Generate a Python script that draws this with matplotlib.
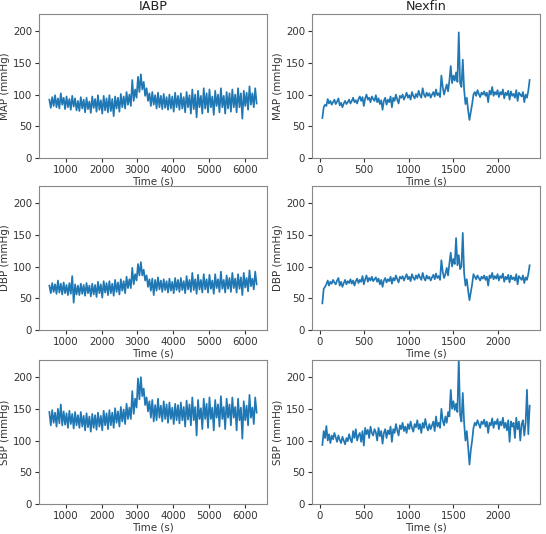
import numpy as np
import matplotlib
matplotlib.use("Agg")
import matplotlib.pyplot as plt

# ---------------- data ----------------
iabp_t_start, iabp_t_end = 540, 6330
nex_t_start, nex_t_end = 30, 2355

iabp_map = [92, 79, 96, 82, 99, 80, 94, 78, 102, 84, 95, 77, 97, 80, 93, 76, 98, 81, 94, 75,
            90, 74, 96, 78, 92, 72, 95, 77, 89, 71, 97, 79, 93, 73, 99, 76, 91, 70, 98, 75,
            94, 72, 99, 74, 93, 66, 97, 78, 95, 73, 101, 80, 97, 78, 104, 84,
            100, 82, 123, 90, 108, 95, 128, 104, 132, 108, 120, 98, 110, 90,
            102, 82, 104, 84, 99, 78, 103, 80, 98, 77, 101, 79, 96, 76, 100, 78, 97, 73, 103, 80,
            98, 76, 102, 78, 96, 72, 104, 80, 99, 70, 108, 77, 100, 64, 106, 80, 98, 70, 110, 78,
            102, 72, 108, 80, 97, 68, 106, 82, 100, 72, 110, 80, 98, 70, 104, 78, 102, 73, 108, 80,
            100, 72, 110, 80, 102, 62, 106, 82, 103, 76, 113, 84, 102, 80, 110, 86]

iabp_dbp = [70, 58, 74, 60, 72, 57, 78, 59, 73, 56, 75, 58, 71, 55, 74, 57, 85, 43, 72, 56,
            70, 55, 73, 57, 71, 54, 74, 58, 70, 53, 73, 56, 71, 52, 76, 58, 72, 51, 77, 59,
            74, 55, 77, 58, 73, 54, 79, 60, 75, 56, 80, 62, 77, 58, 84, 66,
            80, 66, 98, 72, 88, 78, 104, 86, 107, 86, 95, 78, 86, 68,
            80, 62, 81, 55, 79, 62, 83, 64, 78, 60, 80, 63, 77, 59, 81, 62, 76, 58, 82, 63,
            79, 60, 82, 63, 77, 58, 85, 64, 79, 60, 90, 63, 80, 57, 87, 64, 79, 59, 88, 64,
            80, 59, 87, 65, 78, 57, 88, 66, 80, 60, 92, 65, 79, 59, 86, 65, 82, 60, 90, 66,
            81, 59, 88, 65, 83, 55, 90, 67, 82, 61, 94, 69, 81, 64, 92, 72]

iabp_sbp = [145, 124, 148, 128, 144, 122, 150, 127, 157, 124, 146, 125, 143, 120, 147, 126, 142, 119, 145, 124,
            140, 120, 145, 122, 139, 116, 143, 121, 138, 114, 142, 120, 140, 117, 144, 122, 139, 116, 147, 124,
            143, 118, 148, 124, 144, 120, 151, 128, 146, 122, 153, 130, 149, 126, 158, 134,
            152, 134, 178, 142, 166, 152, 198, 165, 200, 170, 182, 156, 168, 146,
            162, 136, 164, 130, 156, 132, 166, 136, 155, 130, 162, 134, 157, 128, 160, 134, 152, 126, 158, 132,
            156, 127, 160, 132, 153, 122, 163, 133, 157, 124, 168, 132, 153, 108, 164, 134, 151, 118, 166, 134,
            158, 120, 168, 134, 152, 116, 164, 136, 157, 122, 170, 134, 153, 118, 166, 136, 157, 124, 168, 136,
            153, 116, 166, 132, 152, 103, 162, 132, 155, 124, 172, 136, 152, 126, 168, 144]

nex_map = [63, 80, 84, 82, 93, 86, 90, 84, 88, 92,
           85, 89, 94, 83, 87, 80, 86, 90, 85, 88,
           92, 86, 90, 95, 88, 91, 86, 93, 97, 90,
           96, 82, 94, 100, 92, 95, 88, 97, 93, 90,
           99, 88, 94, 85, 91, 76, 90, 95, 84, 92,
           88, 97, 80, 95, 90, 100, 92, 86, 98, 95,
           100, 92, 97, 103, 95, 99, 92, 104, 98, 94,
           101, 96, 106, 99, 95, 110, 100, 96, 103, 98,
           102, 95, 100, 104, 97, 108, 99, 102, 96, 130,
           112, 100, 108, 116, 105, 122, 145, 118, 130, 122,
           135, 120, 198, 118, 112, 155, 108, 85, 95, 75,
           60, 72, 85, 100, 104, 98, 107, 101, 96, 103,
           100, 105, 98, 103, 88, 106, 100, 112, 98, 104,
           100, 107, 96, 104, 100, 108, 94, 103, 99, 106,
           92, 105, 98, 101, 95, 107, 90, 103, 100, 97,
           104, 88, 100, 95, 106, 123]

nex_dbp = [42, 65, 68, 72, 78, 70, 76, 73, 79, 75,
           72, 78, 82, 70, 76, 68, 74, 79, 72, 77,
           74, 80, 73, 78, 70, 77, 81, 74, 79, 76,
           85, 72, 80, 86, 76, 82, 78, 84, 77, 80,
           83, 76, 81, 72, 79, 68, 78, 82, 75, 80,
           77, 84, 73, 82, 78, 86, 80, 75, 84, 81,
           85, 78, 83, 88, 80, 84, 77, 88, 82, 79,
           86, 81, 88, 83, 79, 90, 82, 78, 86, 81,
           84, 78, 83, 87, 80, 89, 82, 85, 79, 110,
           92, 82, 88, 98, 86, 105, 122, 100, 112, 104,
           145, 102, 118, 96, 100, 153, 90, 70, 80, 62,
           47, 60, 72, 88, 84, 80, 86, 82, 78, 84,
           81, 86, 79, 84, 70, 86, 82, 90, 80, 85,
           81, 88, 78, 85, 82, 89, 76, 84, 80, 87,
           75, 86, 80, 83, 78, 88, 72, 85, 82, 79,
           86, 74, 83, 79, 88, 102]

nex_sbp = [93, 115, 104, 123, 100, 110, 96, 108, 102, 112,
           105, 98, 108, 101, 96, 106, 100, 94, 104, 99,
           110, 102, 97, 115, 104, 118, 100, 108, 112, 98,
           115, 92, 120, 110, 117, 104, 122, 112, 108, 118,
           113, 100, 120, 107, 115, 95, 112, 118, 104, 116,
           110, 122, 98, 118, 112, 126, 116, 108, 124, 118,
           128, 115, 122, 112, 126, 118, 130, 120, 114, 126,
           121, 132, 118, 126, 112, 128, 120, 134, 122, 116,
           126, 118, 124, 130, 115, 138, 122, 128, 120, 150,
           132, 124, 138, 128, 145, 138, 180, 150, 162, 148,
           158, 145, 230, 140, 130, 175, 128, 100, 115, 90,
           62, 85, 100, 120, 128, 124, 132, 126, 120, 130,
           126, 133, 122, 130, 112, 128, 124, 135, 120, 130,
           126, 134, 118, 130, 124, 136, 120, 128, 116, 132,
           98, 130, 122, 128, 104, 136, 118, 130, 100, 126,
           132, 108, 128, 180, 110, 155]

titles = ["IABP", "Nexfin"]
ylabels = ["MAP (mmHg)", "DBP (mmHg)", "SBP (mmHg)"]
yticks = [0, 50, 100, 150, 200]
iabp_xticks = [1000, 2000, 3000, 4000, 5000, 6000]
nex_xticks = [0, 500, 1000, 1500, 2000]

# ---------------- figure ----------------
fig = plt.figure(figsize=(5.46, 5.34), dpi=100)

col_x = [39 / 546, 312 / 546]
w = 228 / 546
row_y = [1 - 158 / 534, 1 - 330 / 534, 1 - 504 / 534]
h = 144 / 534

series = [[iabp_map, nex_map], [iabp_dbp, nex_dbp], [iabp_sbp, nex_sbp]]
color = "#1f77b4"
tick_fs = 7.4
label_fs = 7.4

for r in range(3):
    for c in range(2):
        ax = fig.add_axes([col_x[c], row_y[r], w, h])
        vals = series[r][c]
        if c == 0:
            t = np.linspace(iabp_t_start, iabp_t_end, len(vals))
            xt = iabp_xticks
            lw = 1.25
        else:
            t = np.linspace(nex_t_start, nex_t_end, len(vals))
            xt = nex_xticks
            lw = 1.25
        ax.plot(t, vals, color=color, lw=lw)
        ax.set_ylim(0, 227)
        ax.set_yticks(yticks)
        ax.set_xticks(xt)
        ax.tick_params(labelsize=tick_fs, length=3, pad=2, colors="#333333")
        ax.set_xlabel("Time (s)", fontsize=label_fs, labelpad=1, color="#333333")
        ax.set_ylabel(ylabels[r], fontsize=label_fs, labelpad=2, color="#333333")
        for s in ax.spines.values():
            s.set_color("#888888")
            s.set_linewidth(0.8)
        if r == 0:
            ax.set_title(titles[c], fontsize=9.2, pad=3, color="#222222")

fig.savefig("out.png", dpi=100)
